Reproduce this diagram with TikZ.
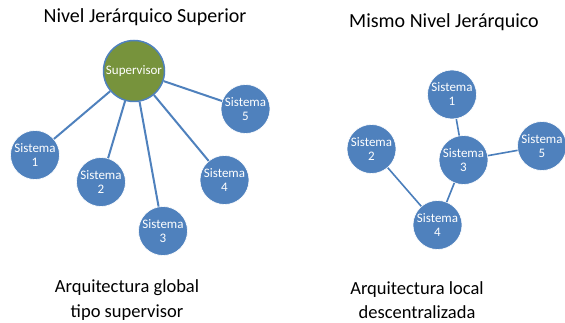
\documentclass[tikz,border=0pt]{standalone}
\usepackage{fontspec}
\setmainfont{Carlito}
\definecolor{sysblue}{HTML}{4F81BD}
\definecolor{supgreen}{HTML}{77933C}
\definecolor{linkblue}{HTML}{4A7EBB}
\begin{document}
\begin{tikzpicture}[x=1pt,y=-1pt,
  sys/.style={circle,fill=sysblue,draw=white,line width=0.6pt,minimum size=49pt,inner sep=0pt,
    text=white,align=center,font=\fontsize{13}{14}\selectfont},
  supnode/.style={circle,fill=supgreen,draw=sysblue,line width=1.5pt,minimum size=61pt,inner sep=0pt,
    text=white,font=\fontsize{13}{14}\selectfont},
  link/.style={draw=sysblue,line width=2pt},
  rlink/.style={draw=linkblue,line width=1.6pt},
  title/.style={font=\fontsize{20}{24}\selectfont,anchor=base},
  caption/.style={font=\fontsize{18.5}{24.5}\selectfont,align=center,inner sep=1pt}]
\useasboundingbox (0,0) rectangle (565,323);
% left
\node[title] (t1) at (145,23) {Nivel Jerárquico Superior};
\node[supnode] (sup) at (134,71) {Supervisor};
\node[sys] (a1) at (35,155) {Sistema\\1};
\node[sys] (a2) at (101,182) {Sistema\\2};
\node[sys] (a3) at (163,231) {Sistema\\3};
\node[sys] (a4) at (224.5,180) {Sistema\\4};
\node[sys] (a5) at (245.5,109) {Sistema\\5};
\foreach \n in {a1,a2,a3,a4,a5} \draw[link] (sup) -- (\n);
\node[caption] (c1) at (127,300) {Arquitectura global\\tipo supervisor};
% right
\node[title] (t2) at (444,28) {Mismo Nivel Jerárquico};
\node[sys] (b1) at (452,94.5) {Sistema\\1};
\node[sys] (b2) at (371.5,149) {Sistema\\2};
\node[sys] (b3) at (463.5,160) {Sistema\\3};
\node[sys] (b4) at (437.5,225) {Sistema\\4};
\node[sys] (b5) at (542,146) {Sistema\\5};
\draw[rlink] (b1) -- (b3);
\draw[rlink] (b3) -- (b5);
\draw[rlink] (b3) -- (b4);
\draw[rlink] (b2) -- (b4);
\node[caption] (c2) at (417,300) {Arquitectura local\\descentralizada};
\end{tikzpicture}
\end{document}
